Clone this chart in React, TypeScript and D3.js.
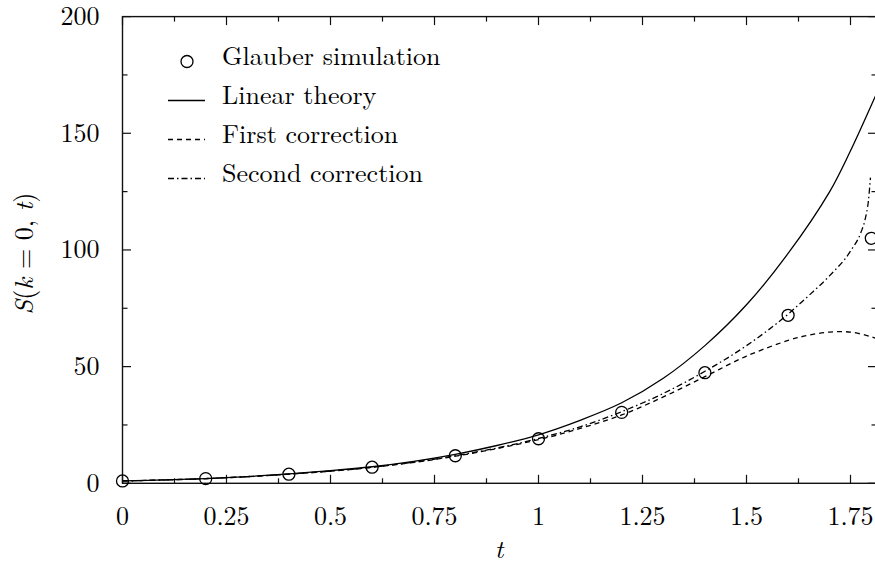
import React from "react";
import * as d3 from "d3";

// ---- data ----
const simT = [0, 0.2, 0.4, 0.6, 0.8, 1.0, 1.2, 1.4, 1.6, 1.8];
const simS = [1.0, 2.0, 3.9, 6.9, 11.8, 19.1, 30.4, 47.4, 72.0, 105];

const linT = [0, 0.1, 0.2, 0.3, 0.4, 0.5, 0.6, 0.7, 0.8, 0.9, 1.0, 1.1, 1.2, 1.3, 1.4, 1.5, 1.6, 1.7, 1.75, 1.8, 1.8125];
const linS = [1.0, 1.45, 2.0, 2.85, 4.0, 5.4, 7.1, 9.4, 12.4, 16.2, 20.8, 27.0, 34.5, 45.0, 59.0, 76.5, 98.5, 125.0, 142.5, 162.0, 167.0];

const firstT = [0, 0.2, 0.4, 0.6, 0.8, 1.0, 1.1, 1.2, 1.3, 1.4, 1.5, 1.6, 1.65, 1.7, 1.75, 1.8, 1.8125];
const firstS = [1.0, 2.0, 3.9, 6.8, 11.6, 18.7, 23.5, 29.3, 37.0, 45.7, 54.5, 61.2, 63.5, 64.8, 64.8, 62.8, 62.0];

const secondT = [0, 0.2, 0.4, 0.6, 0.8, 1.0, 1.1, 1.2, 1.3, 1.4, 1.5, 1.6, 1.65, 1.7, 1.75, 1.775, 1.785, 1.793, 1.798];
const secondS = [1.0, 2.0, 3.95, 6.9, 11.8, 19.2, 24.2, 30.7, 38.5, 48.0, 59.0, 72.5, 80.5, 89.0, 99.5, 107.5, 113.0, 121.0, 131.0];

const xMajor = [0, 0.25, 0.5, 0.75, 1, 1.25, 1.5, 1.75];
const xLabels = ["0", "0.25", "0.5", "0.75", "1", "1.25", "1.5", "1.75"];
const xMinor = [0.125, 0.375, 0.625, 0.875, 1.125, 1.375, 1.625];
const yMajor = [0, 50, 100, 150, 200];
const yLabels = ["0", "50", "100", "150", "200"];
const yMinor = [25, 75, 125, 175];

const legendLabels = ["Glauber simulation", "Linear theory", "First correction", "Second correction"];

const FONT = '"Latin Modern Roman", "Liberation Serif", serif';

export default function App() {
  const W = 875, H = 565;
  const left = 122.5, right = 876.5, top = 16.6, bottom = 483.3;
  const x = d3.scaleLinear().domain([0, 1.8125]).range([left, right]);
  const y = d3.scaleLinear().domain([0, 200]).range([bottom, top]);

  const mk = (ts: number[], vs: number[], curve: d3.CurveFactory = d3.curveMonotoneX) =>
    d3.line<number>().x((_, i) => x(ts[i])).y((v) => y(v)).curve(curve)(vs) || "";

  const major = 8.5, minor = 5;
  const axisStroke = "#111";
  const lw = 1.3;

  const legendY = [65, 104, 143, 182];
  const txt = { fontFamily: FONT } as React.CSSProperties;

  return (
    <svg width={W} height={H} style={{ position: "absolute", left: 0, top: 0, background: "#fff", fontFamily: FONT }}>
      <defs>
        <clipPath id="plotclip">
          <rect x={left} y={top} width={right - left} height={bottom - top} />
        </clipPath>
      </defs>
      <rect x={0} y={0} width={W} height={H} fill="#fff" />

      {/* ticks */}
      <g stroke={axisStroke} strokeWidth={1.2}>
        {xMajor.map((t) => (
          <g key={"xm" + t}>
            <line x1={x(t)} x2={x(t)} y1={bottom} y2={bottom - major} />
            <line x1={x(t)} x2={x(t)} y1={top} y2={top + major} />
          </g>
        ))}
        {xMinor.map((t) => (
          <g key={"xn" + t}>
            <line x1={x(t)} x2={x(t)} y1={bottom} y2={bottom - minor} />
            <line x1={x(t)} x2={x(t)} y1={top} y2={top + minor} />
          </g>
        ))}
        {yMajor.map((v) => (
          <g key={"ym" + v}>
            <line x1={left} x2={left + major} y1={y(v)} y2={y(v)} />
            <line x1={right} x2={right - major} y1={y(v)} y2={y(v)} />
          </g>
        ))}
        {yMinor.map((v) => (
          <g key={"yn" + v}>
            <line x1={left} x2={left + minor} y1={y(v)} y2={y(v)} />
            <line x1={right} x2={right - minor} y1={y(v)} y2={y(v)} />
          </g>
        ))}
      </g>

      {/* frame */}
      <rect x={left} y={top} width={right - left} height={bottom - top} fill="none" stroke={axisStroke} strokeWidth={1.4} />

      {/* tick labels */}
      <g fontSize={26} fill="#000" style={txt}>
        {xMajor.map((t, i) => (
          <text key={"xl" + t} x={x(t)} y={525} textAnchor="middle" style={txt}>{xLabels[i]}</text>
        ))}
        {yMajor.map((v, i) => (
          <text key={"yl" + v} x={99.5} y={y(v) + 8.5} textAnchor="end" style={txt}>{yLabels[i]}</text>
        ))}
      </g>

      {/* axis titles */}
      <text x={499} y={557.5} fontSize={26} textAnchor="middle" fontStyle="italic" style={txt}>t</text>
      <text transform="translate(33,253.5) rotate(-90)" fontSize={26} textAnchor="middle" style={txt}>
        <tspan fontStyle="italic">S</tspan>(<tspan fontStyle="italic">k</tspan> = 0, <tspan fontStyle="italic">t</tspan>)
      </text>

      {/* curves */}
      <g clipPath="url(#plotclip)" fill="none" stroke="#000" strokeWidth={lw}>
        <path d={mk(linT, linS, d3.curveCatmullRom.alpha(0.5))} />
        <path d={mk(firstT, firstS, d3.curveCatmullRom.alpha(0.5))} strokeDasharray="5,4" />
        <path d={mk(secondT, secondS)} strokeDasharray="6,3,1.5,3" />
      </g>
      <g fill="none" stroke="#000" strokeWidth={lw}>
        {simS.map((v, i) => (
          <circle key={"c" + i} cx={x(simT[i])} cy={y(v)} r={6} />
        ))}
      </g>

      {/* legend */}
      <g fontSize={26} fill="#000" style={txt}>
        {legendLabels.map((s, i) => (
          <text key={s} x={222} y={legendY[i]} style={txt}>{s}</text>
        ))}
      </g>
      <g fill="none" stroke="#000" strokeWidth={lw}>
        <circle cx={187} cy={legendY[0] - 3.5} r={6} />
        <line x1={168} x2={205} y1={legendY[1] - 3.5} y2={legendY[1] - 3.5} />
        <line x1={168} x2={205} y1={legendY[2] - 3.5} y2={legendY[2] - 3.5} strokeDasharray="5,4" />
        <line x1={168} x2={205} y1={legendY[3] - 3.5} y2={legendY[3] - 3.5} strokeDasharray="6,3,1.5,3" />
      </g>
    </svg>
  );
}
